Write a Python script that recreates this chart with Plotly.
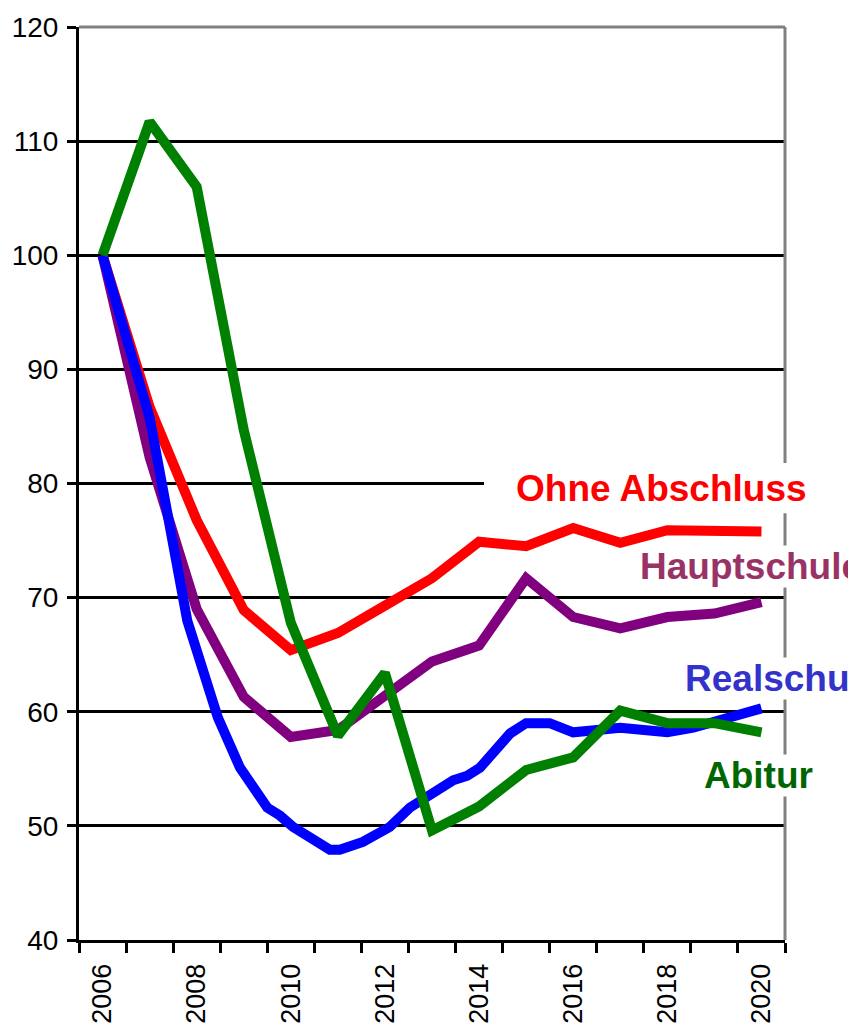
import plotly.graph_objects as go

# Index values (2006 = 100) by school-leaving qualification
years = [2006, 2007, 2008, 2009, 2010, 2011, 2012, 2013, 2014, 2015, 2016, 2017, 2018, 2019, 2020]
ohne_abschluss = [100, 86.7, 76.8, 68.9, 65.4, 66.9, 69.3, 71.7, 74.9, 74.5, 76.1, 74.8, 75.9, 75.9, 75.8]
hauptschule = [100, 82.3, 69.0, 61.3, 57.8, 58.4, 61.4, 64.4, 65.8, 71.7, 68.3, 67.3, 68.3, 68.6, 69.6]
abitur = [100, 111.7, 106.0, 84.7, 67.8, 57.9, 63.4, 49.6, 51.7, 54.9, 56.0, 60.1, 59.0, 59.0, 58.2]

# Realschule is reported at finer (sub-annual) resolution
realschule_x = [2006.0, 2007.0, 2007.8, 2008.45, 2008.92, 2009.5, 2009.77, 2010.05, 2010.83, 2011.04,
                2011.53, 2012.1, 2012.53, 2013.02, 2013.45, 2013.75, 2014.02, 2014.66, 2015.0, 2015.5,
                2016.0, 2017.0, 2018.0, 2018.55, 2020.0]
realschule = [100, 85.8, 68.0, 59.5, 55.1, 51.6, 50.9, 49.9, 47.9, 47.9,
              48.6, 49.9, 51.6, 53.0, 54.0, 54.4, 55.1, 58.1, 59.0, 59.0,
              58.2, 58.6, 58.2, 58.6, 60.3]

y_ticks = [40, 50, 60, 70, 80, 90, 100, 110, 120]
x_label_years = [2006, 2008, 2010, 2012, 2014, 2016, 2018, 2020]
category_edges = [y - 0.5 for y in years] + [years[-1] + 0.5]

FONT = "Arial, Liberation Sans, sans-serif"
LW = 10

fig = go.Figure()
fig.add_trace(go.Scatter(x=years, y=ohne_abschluss, mode="lines", name="Ohne Abschluss",
                         line=dict(color="#FF0000", width=LW)))
fig.add_trace(go.Scatter(x=years, y=hauptschule, mode="lines", name="Hauptschule",
                         line=dict(color="#800080", width=LW)))
fig.add_trace(go.Scatter(x=realschule_x, y=realschule, mode="lines", name="Realschule",
                         line=dict(color="#0000FF", width=LW)))
fig.add_trace(go.Scatter(x=years, y=abitur, mode="lines", name="Abitur",
                         line=dict(color="#008000", width=LW)))

fig.update_layout(
    width=848, height=1024,
    margin=dict(l=79, r=63, t=27, b=84),
    paper_bgcolor="white", plot_bgcolor="white",
    showlegend=False,
    font=dict(family=FONT, size=27, color="black"),
)

fig.update_xaxes(
    range=[years[0] - 0.5, years[-1] + 0.5],
    tickmode="array", tickvals=x_label_years, ticktext=[str(y) for y in x_label_years],
    tickangle=-90, ticks="", ticklabelstandoff=10, automargin=False,
    tickfont=dict(family=FONT, size=27, color="black"),
    showgrid=False, zeroline=False,
    showline=True, linecolor="black", linewidth=3,
    minor=dict(tickmode="array", tickvals=category_edges, ticks="outside",
               ticklen=10, tickwidth=3, tickcolor="black", showgrid=False),
)

fig.update_yaxes(
    range=[40, 120],
    tickmode="array", tickvals=y_ticks,
    ticks="outside", ticklen=9, tickwidth=3, tickcolor="black",
    ticklabelstandoff=3, automargin=False,
    tickfont=dict(family=FONT, size=28, color="black"),
    showgrid=True, gridcolor="black", gridwidth=3,
    zeroline=False,
    showline=True, linecolor="black", linewidth=3,
)

# Frame: grey top and right borders, and a white patch that breaks the 80 gridline
fig.add_shape(type="line", xref="paper", yref="paper", x0=0, x1=1, y0=1, y1=1,
              line=dict(color="#808080", width=3), layer="above")
fig.add_shape(type="line", xref="paper", yref="paper", x0=1, x1=1, y0=0, y1=1,
              line=dict(color="#808080", width=3), layer="above")
fig.add_shape(type="rect", xref="paper", yref="y", x0=0.5737, x1=1.1, y0=77.4, y1=81.8,
              fillcolor="white", line=dict(width=0), layer="above")

labels = [
    ("Ohne Abschluss", 0.6176, 79.6, "#FF0000"),
    ("Hauptschule", 0.793, 72.7, "#993366"),
    ("Realschule", 0.857, 62.9, "#3333CC"),
    ("Abitur", 0.884, 54.4, "#006600"),
]
for text, xp, yv, col in labels:
    fig.add_annotation(text=f"<b>{text}</b>", xref="paper", yref="y", x=xp, y=yv,
                       xanchor="left", yanchor="middle", showarrow=False,
                       font=dict(family=FONT, size=37, color=col),
                       bgcolor="white", borderpad=0)

fig.write_html("out.html")
